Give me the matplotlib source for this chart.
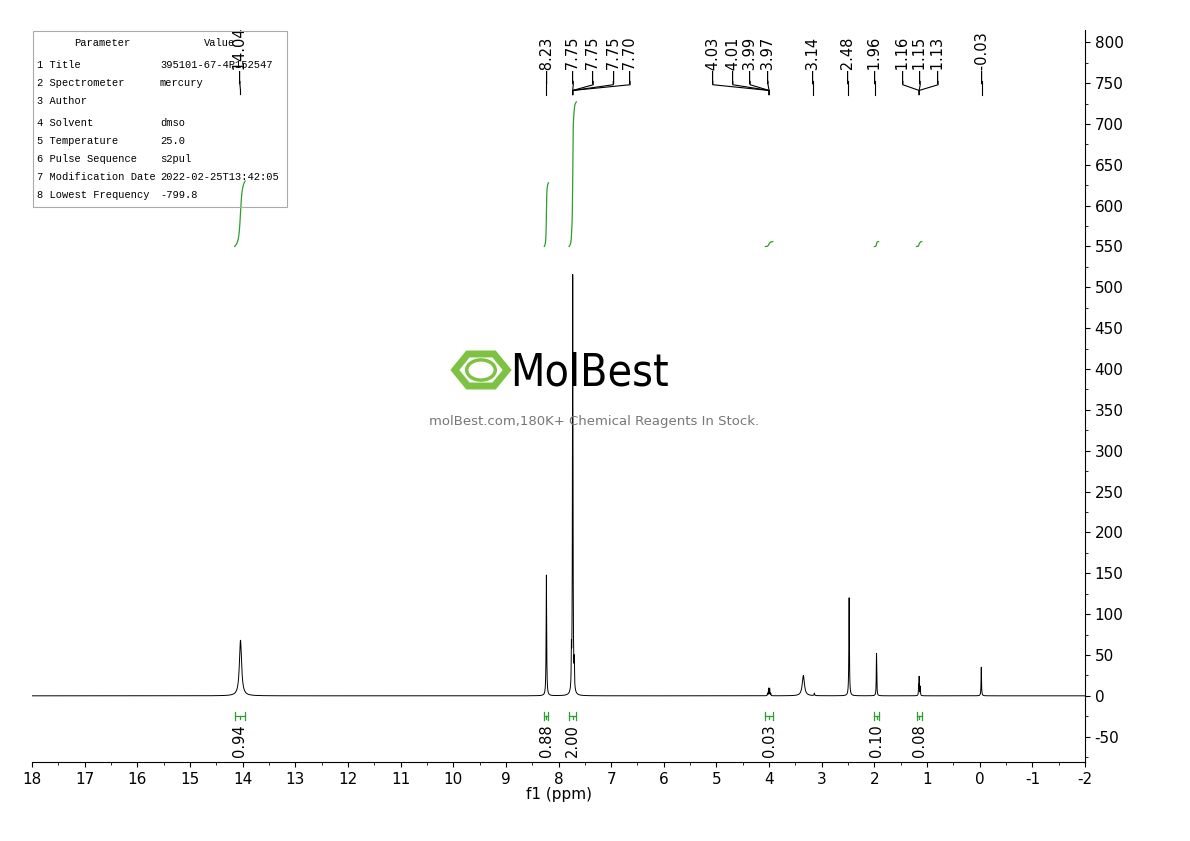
import numpy as np
import matplotlib.pyplot as plt
from matplotlib.patches import RegularPolygon, Circle

plt.rcParams['axes.unicode_minus'] = False

# peak list: center ppm, height, half width
peak_ppm = [14.04, 8.23, 7.755, 7.73, 7.70, 4.03, 4.01, 3.99, 3.97, 3.35, 3.14, 2.48, 1.96, 1.16, 1.15, 1.13, -0.03]
peak_h = [68, 148, 40, 515, 30, 3, 9, 9, 3, 25, 3, 120, 52, 11, 22, 11, 35]
peak_w = [0.025, 0.006, 0.004, 0.006, 0.004, 0.004, 0.004, 0.004, 0.004, 0.025, 0.006, 0.006, 0.005, 0.004, 0.004, 0.004, 0.005]

label_txt = ['14.04', '8.23', '7.75', '7.75', '7.75', '7.70', '4.03', '4.01', '3.99', '3.97',
             '3.14', '2.48', '1.96', '1.16', '1.15', '1.13', '-0.03']
label_pos = [14.05, 8.23, 7.72, 7.34, 6.96, 6.64, 5.07, 4.69, 4.36, 4.02, 3.17, 2.50, 1.99, 1.46, 1.13, 0.79, -0.04]
label_peak = [14.04, 8.23, 7.73, 7.73, 7.73, 7.73, 4.00, 4.00, 4.00, 4.00, 3.17, 2.50, 1.99, 1.15, 1.15, 1.15, -0.04]

int_lo = [13.95, 8.19, 7.66, 3.93, 1.92, 1.10]
int_hi = [14.15, 8.27, 7.80, 4.07, 2.00, 1.20]
int_rise = [80, 78, 177, 6, 6, 6]
int_txt = ['0.94', '0.88', '2.00', '0.03', '0.10', '0.08']

params = ['Parameter', '1 Title', '2 Spectrometer', '3 Author', '4 Solvent', '5 Temperature',
          '6 Pulse Sequence', '7 Modification Date', '8 Lowest Frequency']
values = ['Value', '395101-67-4P152547', 'mercury', '', 'dmso', '25.0', 's2pul',
          '2022-02-25T13:42:05', '-799.8']

x = np.linspace(18, -2, 40000)
y = np.zeros_like(x)
for c, h, w in zip(peak_ppm, peak_h, peak_w):
    y += h * w**2 / ((x - c)**2 + w**2)

fig = plt.figure(figsize=(11.9, 8.41), dpi=100)
ax = fig.add_axes([32/1190, 79/841, (1085-32)/1190, (762-30)/841])
ax.plot(x, y, color='black', lw=0.7)
ax.set_xlim(18, -2)
ax.set_ylim(-81, 815)

# integrals
green = '#2ca02c'
for lo, hi, r, t in zip(int_lo, int_hi, int_rise, int_txt):
    m = (x >= lo) & (x <= hi)
    cs = np.cumsum(y[m])
    cs = cs / cs[-1] * r
    ax.plot(x[m], 550 + cs, color=green, lw=0.9)
    ax.plot([hi, lo], [-25, -25], color=green, lw=0.9)
    for e in (hi, lo):
        ax.plot([e, e], [-30, -20], color=green, lw=0.9)
    mid = (lo + hi) / 2
    ax.plot([mid, mid], [-28, -25], color=green, lw=0.9)
    ax.text(mid, -35, t, rotation=90, ha='center', va='top', fontsize=10.5)

# peak labels
for t, p, pk in zip(label_txt, label_pos, label_peak):
    ax.text(p, 749, '—' + t, rotation=90, ha='center', va='bottom', fontsize=10.5)
    ax.plot([p, p, pk, pk], [752, 748, 741, 736], color='black', lw=0.8)

ax.spines['left'].set_visible(False)
ax.spines['top'].set_visible(False)
ax.yaxis.tick_right()
ax.set_yticks(np.arange(-50, 801, 50))
ax.set_yticks(np.arange(-75, 801, 25), minor=True)
ax.set_xticks(np.arange(-2, 19, 1))
ax.set_xticklabels([str(v) for v in np.arange(-2, 19, 1)])
ax.set_xticks(np.arange(-2, 18.01, 0.5), minor=True)
ax.tick_params(labelsize=11, direction='out')
ax.set_xlabel('f1 (ppm)', fontsize=11, labelpad=0)

# parameter table
fig.patches.append(plt.Rectangle((33/1190, 1 - 207/841), 254/1190, 176/841, transform=fig.transFigure,
                                 fill=False, edgecolor='#aaaaaa', lw=0.8))
rows_y = [43, 65, 83, 101, 123, 141, 159, 177, 195]
for i, (p, v) in enumerate(zip(params, values)):
    yy = 1 - rows_y[i] / 841
    if i == 0:
        fig.text(102/1190, yy, p, ha='center', va='center', family='Liberation Mono', fontsize=7.5)
        fig.text(220/1190, yy, v, ha='center', va='center', family='Liberation Mono', fontsize=7.5)
    else:
        fig.text(37/1190, yy, p, ha='left', va='center', family='Liberation Mono', fontsize=7.5)
        fig.text(160/1190, yy, v, ha='left', va='center', family='Liberation Mono', fontsize=7.5)

# watermark
fig.patches.append(RegularPolygon((481/1190, 1 - 370/841), 6, radius=0.022, orientation=np.pi/6,
                                  transform=fig.transFigure, fill=False, edgecolor='#7dc242', lw=5))
fig.patches.append(Circle((481/1190, 1 - 370/841), 0.012, transform=fig.transFigure,
                          fill=False, edgecolor='#7dc242', lw=2.5))
fig.text(510/1190, 1 - 373/841, 'MolBest', fontsize=32, family='DejaVu Sans', fontstretch='condensed',
         va='center', ha='left', color='black')
fig.text(594/1190, 1 - 421/841, 'molBest.com,180K+ Chemical Reagents In Stock.', fontsize=9.5,
         color='#777777', ha='center', va='center')

fig.savefig('out.png', dpi=100)
